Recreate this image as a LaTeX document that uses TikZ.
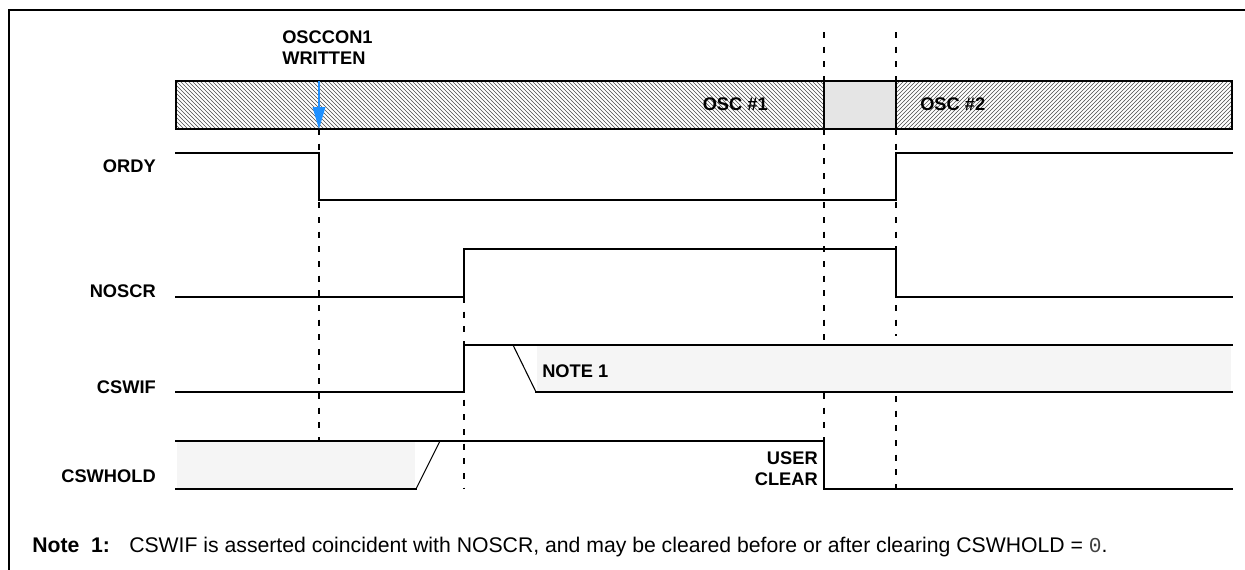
\documentclass[tikz,border=0pt]{standalone}
\usepackage{fontspec}
\setmainfont{Liberation Sans}
\newfontfamily\monofont{Liberation Mono}
\usetikzlibrary{patterns,arrows.meta}
\definecolor{arrowblue}{RGB}{30,144,255}
\definecolor{lightshade}{RGB}{245,245,245}
\definecolor{blockgray}{RGB}{229,229,229}
\begin{document}
\begin{tikzpicture}[x=0.75pt,y=-0.75pt,
  sig/.style={line width=1.5pt, line join=miter, line cap=rect},
  slant/.style={line width=0.8pt},
  guide/.style={line width=1.1pt, dash pattern=on 4.5pt off 6.5pt},
  lbl/.style={font=\fontsize{13.7}{16}\selectfont\bfseries, inner sep=0pt},
  notetxt/.style={font=\fontsize{15.9}{18}\selectfont, inner sep=0pt},
  hatchA/.style={pattern=north west lines, pattern color=black!70},
  hatchB/.style={pattern=north east lines, pattern color=black!70}]
\useasboundingbox (0,0) rectangle (1245,569);
\clip (0,0) rectangle (1245,569);
% frame
\draw[line width=1.5pt] (9,620) -- (9,10) -- (1280,10);
% guides
\draw[guide] (824,32) -- (824,81);
\draw[guide] (896,32) -- (896,81);
\draw[guide] (824,129) -- (824,441);
\draw[guide] (896,129) -- (896,336);
\draw[guide] (896,396) -- (896,489);
\draw[guide] (319,129) -- (319,489);
\draw[guide] (464,297) -- (464,489);
% oscillator bar
\fill[hatchA] (176,81) rectangle (824,129);
\fill[blockgray] (824,81) rectangle (896,129);
\fill[hatchB] (896,81) rectangle (1232,129);
\draw[sig] (176,81) rectangle (1232,129);
\draw[sig] (824,81) -- (824,129);
\draw[sig] (896,81) -- (896,129);
\node[lbl, anchor=base east] (osc1) at (768,110) {OSC \#1};
\node[lbl, anchor=base west] (osc2) at (920,110) {OSC \#2};
% OSCCON1 written
\node[lbl, anchor=base west] (osccon) at (282,43) {OSCCON1};
\node[lbl, anchor=base west] (written) at (282,64) {WRITTEN};
\coordinate (arrtop) at (319,81);
\coordinate (arrmid) at (319,110);
\coordinate (arrbot) at (319,129);
\draw[arrowblue, line width=1.9pt] (arrtop) -- (arrmid);
\fill[arrowblue] (312.5,107) -- (325.5,107) -- (arrbot) -- cycle;
% ORDY
\draw[sig] (176,153) -- (319,153) -- (319,200) -- (896,200) -- (896,153) -- (1232,153);
\node[lbl, anchor=base east] (ordy) at (156,172) {ORDY};
% NOSCR
\draw[sig] (176,297) -- (464,297) -- (464,249) -- (896,249) -- (896,297) -- (1232,297);
\node[lbl, anchor=base east] (noscr) at (156,297) {NOSCR};
% CSWIF
\fill[lightshade] (537,346) rectangle (1231,391);
\draw[sig] (176,392) -- (464,392) -- (464,345) -- (1232,345);
\draw[slant] (513,345) -- (536,392);
\draw[sig] (536,392) -- (1232,392);
\node[lbl, anchor=base west] (note1) at (542,377) {NOTE 1};
\node[lbl, anchor=base east] (cswif) at (156,393) {CSWIF};
% CSWHOLD
\fill[lightshade] (177,442) rectangle (415,488);
\draw[sig] (176,441) -- (824,441) -- (824,489) -- (1232,489);
\draw[sig] (176,489) -- (416,489);
\draw[slant] (416,489) -- (440,441);
\node[lbl, anchor=base east] (cswhold) at (156,482) {CSWHOLD};
\node[lbl, anchor=base east] (user) at (818,464) {USER};
\node[lbl, anchor=base east] (clear) at (818,485) {CLEAR};
% note
\node[notetxt, anchor=base west, font=\fontsize{15.9}{18}\selectfont\bfseries] (notehead) at (32,552) {Note\ \ 1:};
\node[notetxt, anchor=base west] (notebody) at (129,552) {CSWIF is asserted coincident with NOSCR, and may be cleared before or after clearing CSWHOLD = {\monofont\color{black!75}0}.};
\end{tikzpicture}
\end{document}
